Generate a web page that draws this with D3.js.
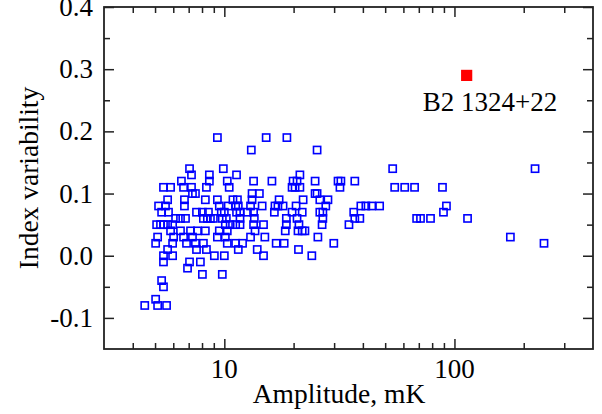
<!DOCTYPE html>
<html><head><meta charset="utf-8">
<script src="https://cdn.jsdelivr.net/npm/d3@7"></script>
<style>html,body{margin:0;padding:0;background:#fff;}svg{display:block;}</style>
</head><body>
<svg id="c" width="602" height="414"></svg>
<script>
// ---- data (amplitude in mK, index variability) ----
const rowLevels = [0.19,0.17,0.14,0.13,0.12,0.11,0.10,0.09,0.08,0.07,0.06,0.05,0.04,0.03,0.02,0.01,0.00,-0.01,-0.02,-0.03,-0.04,-0.05,-0.07,-0.08];
const rowAmplitudes = [
  [9.33,15.2,18.7],
  [13.1,25.3],
  [7.06,9.9,53.9,224],
  [7.2,8.61,11.3,21.3],
  [6.51,8.61,10.3,13.4,16.1,19.9,20.7,24.8,31.2,32.1,36.9],
  [5.44,5.84,6.65,7.2,8.36,10.5,19.7,20.3,21.3,31.8,55.0,60.8,67.1,88.7],
  [7.27,7.49,13.2,14.2,24.8,25.3],
  [5.67,6.71,8.27,9.33,10.9,11.4,13.2,17.3,22.0,26.0,28.2],
  [5.18,5.55,6.71,9.51,10.4,11.2,11.5,13.0,14.6,16.6,17.1,18.0,20.5,27.6,39.2,41.2,43.7,47.3,92.3],
  [5.34,5.72,7.57,8.03,8.53,9.7,10.0,11.3,11.7,12.6,13.4,16.5,19.7,21.8,26.0,26.8,36.5,89.6],
  [6.14,6.45,6.78,8.11,8.44,8.7,8.96,9.8,10.2,11.7,13.5,18.6,20.7,26.8,36.9,38.8,68.5,71.2,78.7,114],
  [5.08,5.28,5.44,5.67,5.96,10.1,10.6,11.2,11.7,13.4,14.8,18.6,21.1,26.6,34.8],
  [5.84,6.45,7.13,7.64,8.27,9.51,10.3,13.6,18.4,20.9,21.8,22.4],
  [5.13,6.02,6.65,7.27,9.33,10.1,13.0,15.0,25.5,175],
  [5.03,5.96,6.85,7.49,8.11,10.3,11.2,12.0,16.8,18.2,29.9,245],
  [5.67,7.57,8.36,11.5,13.9,21.0],
  [5.44,5.96,9.05,10.0,14.8,24.0],
  [5.44,7.06,7.87],
  [6.92],
  [8.03,9.8],
  [5.34],
  [5.44],
  [5.03],
  [4.51,5.13,5.61]
];
const highlightName = "B2 1324+22";
const highlightAmp = 113;
const highlightIdx = 0.29;

const xMajorTicks = [10,100];
const xMajorLabels = ["10","100"];
const xMinorTicks = [4,5,6,7,8,9,20,30,40,50,60,70,80,90,200,300];
const yMajorTicks = [-0.1,0.0,0.1,0.2,0.3,0.4];
const yMajorLabels = ["-0.1","0.0","0.1","0.2","0.3","0.4"];
const yMinorTicks = [-0.05,0.05,0.15,0.25,0.35];
const xTitle = "Amplitude, mK";
const yTitle = "Index variability";

// ---- build points ----
const points = [];
rowLevels.forEach((lv,i)=>rowAmplitudes[i].forEach(a=>points.push({a:a,v:lv})));

const L=104,R=593,T=7,B=349;
const x = d3.scaleLog().domain([3,400]).range([L,R]);
const y = d3.scaleLinear().domain([-0.15,0.4]).range([B,T]);
const svg = d3.select("#c");
const font = "'Liberation Serif','Times New Roman',serif";

// points
svg.append("g").selectAll("rect").data(points).enter().append("rect")
  .attr("x",d=>x(d.a)-3.6).attr("y",d=>y(d.v)-3.6)
  .attr("width",7.2).attr("height",7.2)
  .attr("fill","none").attr("stroke","#0000ff").attr("stroke-width",1.6);

// highlight
svg.append("rect").attr("x",x(highlightAmp)-5.6).attr("y",y(highlightIdx)-5.6)
  .attr("width",11.2).attr("height",11.2).attr("fill","#ff0000");
svg.append("text").attr("x",x(highlightAmp)-44).attr("y",y(highlightIdx)+36)
  .attr("font-family",font).attr("font-size",27).attr("fill","#000").text(highlightName);

// axes ticks (inward)
function tickAxis(gen, vals, size, transform){
  const g = svg.append("g").attr("transform",transform)
    .call(gen.tickValues(vals).tickSizeInner(size).tickSizeOuter(0).tickFormat(""));
  g.select(".domain").remove();
  g.selectAll("line").attr("stroke","#222").attr("stroke-width",1.5);
}
tickAxis(d3.axisBottom(x), xMajorTicks, -10, `translate(0,${B})`);
tickAxis(d3.axisBottom(x), xMinorTicks, -6, `translate(0,${B})`);
tickAxis(d3.axisTop(x), xMajorTicks, -10, `translate(0,${T})`);
tickAxis(d3.axisTop(x), xMinorTicks, -6, `translate(0,${T})`);
tickAxis(d3.axisLeft(y), yMajorTicks, -10, `translate(${L},0)`);
tickAxis(d3.axisLeft(y), yMinorTicks, -6, `translate(${L},0)`);
tickAxis(d3.axisRight(y), yMajorTicks, -10, `translate(${R},0)`);
tickAxis(d3.axisRight(y), yMinorTicks, -6, `translate(${R},0)`);

// frame
svg.append("rect").attr("x",L).attr("y",T).attr("width",R-L).attr("height",B-T)
  .attr("fill","none").attr("stroke","#222").attr("stroke-width",1.8);

// tick labels
svg.append("g").selectAll("text").data(xMajorTicks).enter().append("text")
  .attr("x",d=>x(d)).attr("y",B+29).attr("text-anchor","middle")
  .attr("font-family",font).attr("font-size",27).text((d,i)=>xMajorLabels[i]);
svg.append("g").selectAll("text").data(yMajorTicks).enter().append("text")
  .attr("x",L-11).attr("y",d=>y(d)+9).attr("text-anchor","end")
  .attr("font-family",font).attr("font-size",27).text((d,i)=>yMajorLabels[i]);

// titles
svg.append("text").attr("x",339).attr("y",403).attr("text-anchor","middle")
  .attr("font-family",font).attr("font-size",27.5).text(xTitle);
svg.append("text").attr("transform",`translate(38,${(T+B)/2}) rotate(-90)`)
  .attr("text-anchor","middle").attr("font-family",font).attr("font-size",27.5).text(yTitle);
</script>
</body></html>
